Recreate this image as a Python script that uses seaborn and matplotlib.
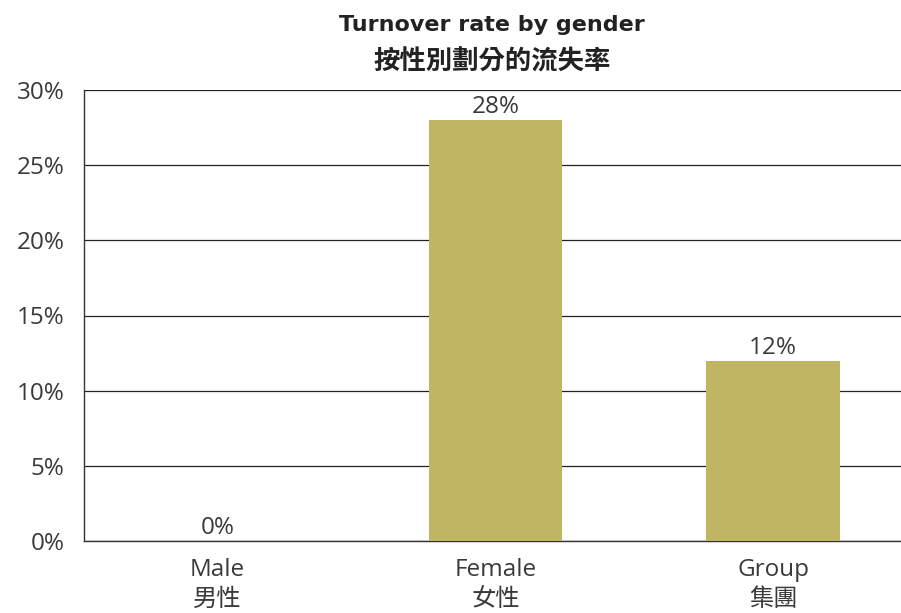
import matplotlib
matplotlib.use("Agg")
import matplotlib.pyplot as plt
import seaborn as sns
import pandas as pd
from matplotlib.ticker import PercentFormatter

# 데이터
categories = ["Male\n男性", "Female\n女性", "Group\n集團"]
rates = [0, 28, 12]
bar_labels = ["0%", "28%", "12%"]
y_ticks = [0, 5, 10, 15, 20, 25, 30]

sns.set_theme(style="white")
plt.rcParams["font.family"] = ["Open Sans", "Noto Sans CJK TC", "DejaVu Sans"]

df = pd.DataFrame({"category": categories, "rate": rates})

fig = plt.figure(figsize=(9.01, 6.13), dpi=100)
ax = fig.add_axes([84 / 901, 72 / 613, 817 / 901, 451 / 613])

sns.barplot(data=df, x="category", y="rate", color="#BFB563", saturation=1,
            width=0.48, linewidth=0, ax=ax, zorder=3)

ax.set_ylim(0, 30)
ax.set_xlim(-0.48, 2.46)
ax.set_yticks(y_ticks)
ax.yaxis.set_major_formatter(PercentFormatter(decimals=0))
ax.grid(axis="y", color="#222222", linewidth=0.9, zorder=0)
ax.tick_params(axis="both", length=0, labelsize=17.5, labelcolor="#3a3a3a")
ax.tick_params(axis="y", pad=14)
ax.tick_params(axis="x", pad=12)
for t in ax.get_xticklabels():
    t.set_linespacing(1.35)
ax.set_xlabel("")
ax.set_ylabel("")

for s in ["top", "right"]:
    ax.spines[s].set_visible(False)
for s in ["left", "bottom"]:
    ax.spines[s].set_color("#333333")
    ax.spines[s].set_linewidth(1.0)

for i, (v, lab) in enumerate(zip(rates, bar_labels)):
    ax.text(i, v + 0.05, lab, ha="center", va="bottom", fontsize=17.5, color="#3a3a3a")

# 제목 (2줄)
fig.text(0.546, 1 - 25 / 613, "Turnover rate by gender", ha="center", va="center",
         fontsize=16, fontweight="bold", color="#222222",
         family=["DejaVu Sans", "Noto Sans CJK TC"])
fig.text(0.546, 1 - 62 / 613, "按性別劃分的流失率", ha="center", va="center",
         fontsize=19, fontweight="bold", color="#222222",
         family=["Noto Sans CJK TC", "DejaVu Sans"])

fig.savefig("out.png", dpi=100)
